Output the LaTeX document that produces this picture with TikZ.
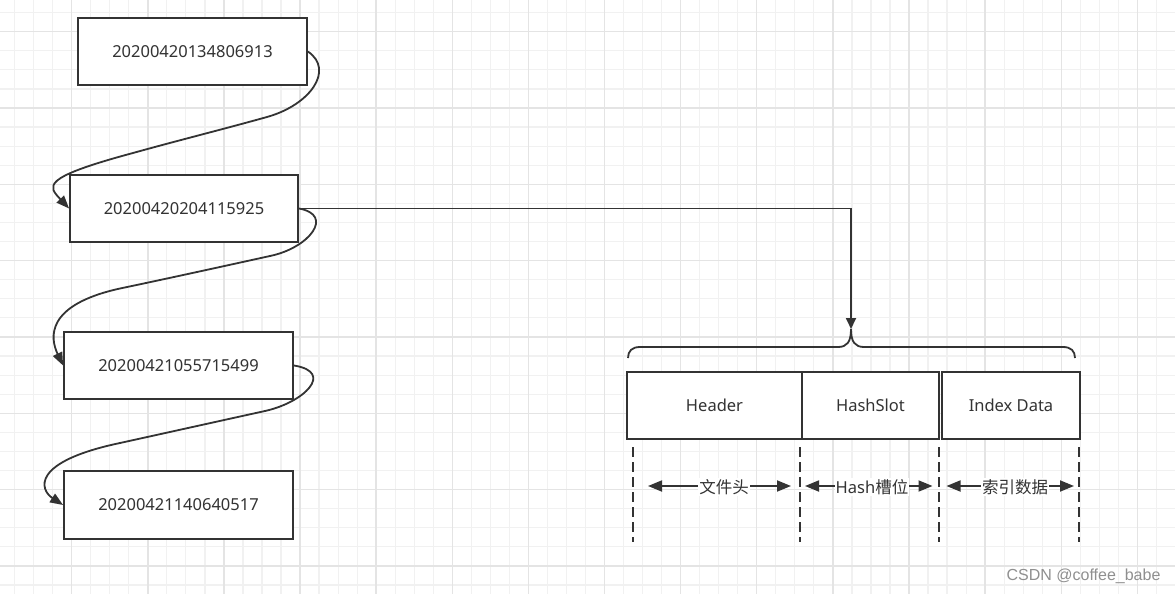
\documentclass[tikz,border=0pt]{standalone}
\usepackage{fontspec}
\setmainfont{Noto Sans}
\newfontfamily\cjk{Noto Sans CJK SC}
\newfontfamily\wmfont{Liberation Sans}
\usetikzlibrary{arrows.meta}
\definecolor{ink}{HTML}{333333}
\definecolor{gminor}{HTML}{F1F1F1}
\definecolor{gmajor}{HTML}{E4E4E4}
\definecolor{wmgray}{HTML}{8F8F8F}
\begin{document}
\begin{tikzpicture}[x=1pt,y=-1pt,
  box/.style={draw=ink, line width=1.8pt, fill=white, inner sep=0pt,
    font=\fontsize{16.5}{19}\selectfont, text=ink, anchor=center},
  conn/.style={draw=ink, line width=1.8pt, -{Triangle[length=13pt,width=10pt]}},
  elbow/.style={draw=ink, line width=1.8pt, -{Triangle[length=11pt,width=10pt]}},
  brace/.style={draw=ink, line width=1.8pt},
  dashline/.style={draw=ink, line width=1.8pt, dash pattern=on 10pt off 5pt},
  dbl/.style={draw=ink, line width=1.8pt,
    {Triangle[length=14pt,width=11pt]}-{Triangle[length=14pt,width=11pt]}},
  lab/.style={fill=white, inner sep=1pt, text=ink, font=\fontsize{16.5}{19}\selectfont},
  gmin/.style={draw=gminor, line width=1.2pt},
  gmaj/.style={draw=gmajor, line width=1.4pt}
]
\useasboundingbox (0,0) rectangle (1175,594);
\fill[white] (0,0) rectangle (1175,594);
% grid
\foreach \i in {0,...,61} {\draw[gmin] ({14.6+19.03*\i},0) -- ({14.6+19.03*\i},594);}
\foreach \j in {0,...,30} {\draw[gmin] (0,{12.6+19.08*\j}) -- (1175,{12.6+19.08*\j});}
\foreach \k in {0,...,14} {\draw[gmaj] ({71.7+76.12*\k},0) -- ({71.7+76.12*\k},594);}
\foreach \k in {0,...,7} {\draw[gmaj] (0,{31.7+76.33*\k}) -- (1175,{31.7+76.33*\k});}

% left boxes
\node[box, minimum width=229pt, minimum height=67pt] (b1) at (192.5,51.5) {20200420134806913};
\node[box, minimum width=228pt, minimum height=67pt] (b2) at (184,208.5) {20200420204115925};
\node[box, minimum width=229pt, minimum height=67pt] (b3) at (178.5,365.5) {20200421055715499};
\node[box, minimum width=229pt, minimum height=68pt] (b4) at (178.5,505) {20200421140640517};

% curved connectors
\draw[conn] (b1.east) .. controls (335,70) and (310,105) .. (267,117)
  .. controls (224,129) and (176,141) .. (133,153)
  .. controls (40,178) and (48,186) .. (b2.west);
\draw[conn] (b2.east) .. controls (335,215) and (309,248) .. (270,256)
  .. controls (220,267) and (170,278) .. (120,288.5)
  .. controls (45,305) and (50,338) .. (b3.west);
\draw[conn] (b3.east) .. controls (335,372) and (304,402.4) .. (265,411)
  .. controls (215,422) and (170,432) .. (120,443)
  .. controls (30,462) and (40,490) .. (b4.west);

% file layout boxes
\node[box, minimum width=175pt, minimum height=67pt] (hd) at (714.5,405.5) {Header};
\node[box, minimum width=137pt, minimum height=67pt] (hs) at (870.5,405.5) {HashSlot};
\node[box, minimum width=138pt, minimum height=67pt] (id) at (1011,405.5) {Index Data};

% brace
\coordinate (tip) at (851,329);
\draw[brace] (628,358) .. controls (628,351) and (632,347) .. (640,347) -- (838,347)
  .. controls (847,347) and (851,342) .. (tip)
  .. controls (851,342) and (855,347) .. (864,347) -- (1063,347)
  .. controls (1071,347) and (1075,351) .. (1075,358);
\draw[elbow] (b2.east) -| (tip);

% dashed separators
\draw[dashline] (633.3,447) -- (633.3,542);
\draw[dashline] (800,447) -- (800,542);
\draw[dashline] (939.3,447) -- (939.3,542);
\draw[dashline] (1079.3,447) -- (1079.3,542);

% double arrows with labels
\coordinate (a1l) at (648,486); \coordinate (a1r) at (791,486);
\coordinate (a2l) at (805,486); \coordinate (a2r) at (932.5,486);
\coordinate (a3l) at (946.5,486); \coordinate (a3r) at (1074,486);
\draw[dbl] (a1l) -- (a1r);
\draw[dbl] (a2l) -- (a2r);
\draw[dbl] (a3l) -- (a3r);
\node[lab] (l1) at (724,487) {\cjk 文件头};
\node[lab] (l2) at (872,487) {Hash{\cjk 槽位}};
\node[lab] (l3) at (1015,487) {\cjk 索引数据};

% watermark
\node[text=wmgray, font=\wmfont\fontsize{16}{19}\selectfont, inner sep=0pt] (wm) at (1083.5,576) {CSDN @coffee\_babe};
\end{tikzpicture}
\end{document}
